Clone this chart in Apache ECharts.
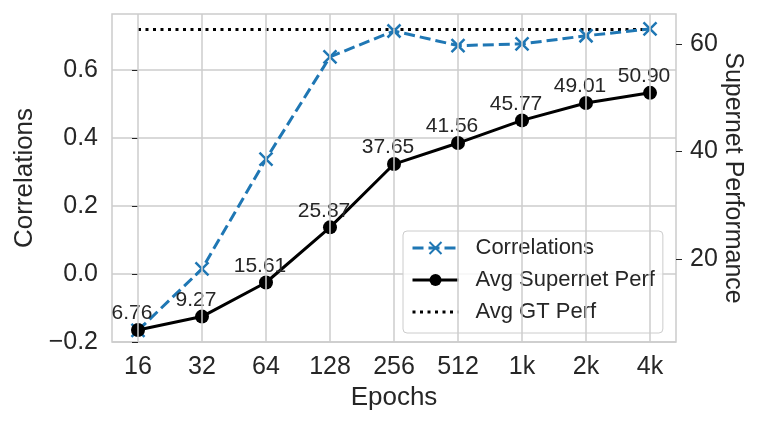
<!DOCTYPE html>
<html>
<head>
<meta charset="utf-8">
<script src="https://cdn.jsdelivr.net/npm/echarts@6/dist/echarts.min.js"></script>
<style>
  html, body { margin: 0; padding: 0; background: #fff; }
  #chart { width: 762px; height: 429px; }
</style>
</head>
<body>
<div id="chart"></div>
<script>
// 横轴：训练轮数
var epochs = ['16', '32', '64', '128', '256', '512', '1k', '2k', '4k'];
// 左轴：相关系数
var correlations = [-0.166, 0.015, 0.338, 0.639, 0.715, 0.672, 0.677, 0.701, 0.721];
// 右轴：超网平均性能
var supernetPerf = [6.76, 9.27, 15.61, 25.87, 37.65, 41.56, 45.77, 49.01, 50.90];
// GT 平均性能（水平虚线）
var avgGtPerf = 62.7;
var corrTicks = [-0.2, 0, 0.2, 0.4, 0.6];
var perfTicks = [20, 40, 60];

let font = "'Liberation Sans', Arial, sans-serif";
let txt = '#262626';
let gridGray = '#cccccc';

let myChart = echarts.init(document.getElementById('chart'));

let idx = epochs.map((e, i) => i);

myChart.setOption({
  animation: false,
  backgroundColor: '#fff',
  textStyle: { fontFamily: font, color: txt },
  grid: {
    left: 112, right: 86, top: 14, bottom: 87,
    show: true, borderColor: gridGray, borderWidth: 1.5,
    containLabel: false
  },
  legend: {
    orient: 'vertical',
    left: 403, top: 231,
    align: 'left',
    padding: [6, 8, 10, 8],
    itemGap: 10,
    itemWidth: 46,
    itemHeight: 15,
    backgroundColor: 'rgba(255,255,255,0.8)',
    borderColor: gridGray,
    borderWidth: 1,
    borderRadius: 4,
    lineStyle: { width: 3 },
    textStyle: { fontFamily: font, fontSize: 22, color: txt, padding: [0, 0, 0, 12], lineHeight: 22 },
    data: ['Correlations', 'Avg Supernet Perf', { name: 'Avg GT Perf', itemStyle: { opacity: 0 } }]
  },
  xAxis: {
    type: 'value',
    min: -0.406, max: 8.406,
    name: 'Epochs',
    nameLocation: 'middle',
    nameGap: 43,
    nameTextStyle: { fontSize: 26, color: txt, fontFamily: font },
    axisLine: { show: false },
    axisTick: { show: false },
    splitLine: { show: false },
    axisLabel: {
      customValues: idx,
      formatter: v => epochs[Math.round(v)],
      fontSize: 25, color: txt, fontFamily: font, margin: 13
    }
  },
  yAxis: [{
    type: 'value',
    min: -0.2, max: 0.765, interval: 0.2,
    name: 'Correlations',
    nameLocation: 'middle',
    nameGap: 73,
    nameTextStyle: { fontSize: 26, color: txt, fontFamily: font },
    axisLine: { show: false },
    axisTick: { show: true, customValues: corrTicks, length: 6, lineStyle: { color: txt, width: 1 } },
    splitLine: { show: true, lineStyle: { color: gridGray, width: 1.5 } },
    axisLabel: {
      customValues: corrTicks,
      formatter: v => (v < -1e-9 ? '\u2212' : '') + Math.abs(v).toFixed(1),
      fontSize: 25, color: txt, fontFamily: font, margin: 14
    }
  }, {
    type: 'value',
    position: 'right',
    min: 4.54, max: 65.57,
    name: 'Supernet Performance',
    nameLocation: 'middle',
    nameRotate: -90,
    nameGap: 44,
    nameMoveOverlap: false,
    nameTextStyle: { fontSize: 25, color: txt, fontFamily: font },
    axisLine: { show: false },
    axisTick: { show: true, customValues: perfTicks, length: 6, lineStyle: { color: txt, width: 1 } },
    splitLine: { show: false },
    axisLabel: {
      customValues: perfTicks,
      fontSize: 25, color: txt, fontFamily: font, margin: 14
    }
  }],
  series: [{
    name: 'Avg GT Perf',
    type: 'line',
    yAxisIndex: 1,
    z: 1,
    symbol: 'none',
    data: idx.map(i => [i, avgGtPerf]),
    lineStyle: { color: '#000', width: 3, type: [3, 4.5], cap: 'butt' },
    itemStyle: { color: '#000' },
    markLine: {
      silent: true,
      symbol: 'none',
      label: { show: false },
      lineStyle: { color: gridGray, width: 1.5, type: 'solid' },
      data: idx.map(i => ({ xAxis: i }))
    }
  }, {
    name: 'Correlations',
    type: 'line',
    yAxisIndex: 0,
    z: 3,
    data: correlations.map((v, i) => [i, v]),
    symbol: 'path://M0,0L10,10M10,0L0,10',
    symbolSize: 13,
    lineStyle: { color: '#1f77b4', width: 3, type: [11, 5] },
    itemStyle: { color: '#1f77b4', borderColor: '#1f77b4', borderWidth: 2.5 }
  }, {
    name: 'Avg Supernet Perf',
    type: 'line',
    yAxisIndex: 1,
    z: 4,
    data: supernetPerf.map((v, i) => [i, v]),
    symbol: 'circle',
    symbolSize: 14,
    lineStyle: { color: '#000', width: 3 },
    itemStyle: { color: '#000' },
    label: {
      show: true,
      position: 'top',
      distance: -1,
      offset: [-6, 0],
      fontSize: 21,
      color: txt,
      fontFamily: font,
      formatter: p => p.value[1].toFixed(2)
    }
  }]
});

window.onresize = function () {
  myChart.resize();
};
</script>
</body>
</html>
